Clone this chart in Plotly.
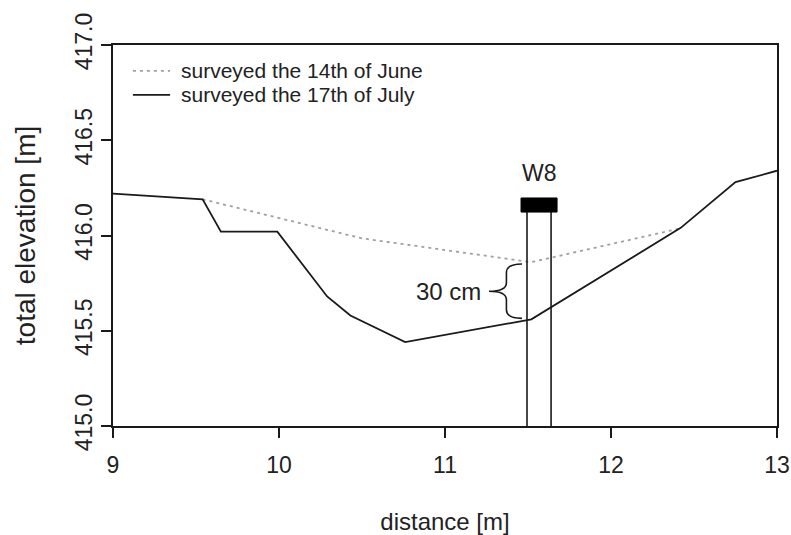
import plotly.graph_objects as go

# Data (distance [m], total elevation [m])
june_x = [9.54, 10.50, 11.52, 12.43]
june_y = [416.19, 415.985, 415.86, 416.04]

july_x = [9.00, 9.54, 9.65, 9.99, 10.29, 10.43, 10.76, 11.52, 12.42, 12.75, 13.00]
july_y = [416.22, 416.19, 416.02, 416.02, 415.68, 415.58, 415.44, 415.56, 416.04, 416.28, 416.34]

# Well W8 (pipe walls and cap)
well_left = 11.494
well_right = 11.639
well_cap_x = [11.458, 11.675]
well_cap_y = [416.123, 416.197]
well_label = "W8"
gap_label = "30 cm"

series_names = ["surveyed the 14th of June", "surveyed the 17th of July"]
series_colors = ["#a0a0a0", "#1a1a1a"]
series_dash = ["3px,4px", "solid"]

xticks = [9, 10, 11, 12, 13]
yticks = [415.0, 415.5, 416.0, 416.5, 417.0]

FONT = "Liberation Sans, Arial, Helvetica, sans-serif"
TXT = "#222222"

fig = go.Figure()

fig.add_trace(go.Scatter(
    x=june_x, y=june_y, mode="lines", name=series_names[0], showlegend=False,
    line=dict(color=series_colors[0], width=1.8, dash=series_dash[0]),
))
fig.add_trace(go.Scatter(
    x=july_x, y=july_y, mode="lines", name=series_names[1], showlegend=False,
    line=dict(color=series_colors[1], width=1.8, dash=series_dash[1]),
))

# pipe walls
for wx in (well_left, well_right):
    fig.add_trace(go.Scatter(
        x=[wx, wx], y=[yticks[0], well_cap_y[0]], mode="lines",
        line=dict(color="#1a1a1a", width=1.6), showlegend=False, hoverinfo="skip",
    ))

# cap rectangle
fig.add_shape(type="rect", xref="x", yref="y",
              x0=well_cap_x[0], x1=well_cap_x[1], y0=well_cap_y[0], y1=well_cap_y[1],
              fillcolor="black", line=dict(color="black", width=1))

fig.add_annotation(x=(well_cap_x[0] + well_cap_x[1]) / 2, y=416.33, text=well_label,
                   showarrow=False, font=dict(family=FONT, size=23, color=TXT))

# curly brace between the two surveys at the well
top = june_y[2] - 0.01
bot = july_y[7] + 0.005
mid = (top + bot) / 2
xr, xm, xt = 11.464, 11.370, 11.265
dy = 0.045
path = (f"M{xr},{top} Q{xm},{top} {xm},{top-dy} L{xm},{mid+dy} "
        f"Q{xm},{mid} {xt},{mid} Q{xm},{mid} {xm},{mid-dy} "
        f"L{xm},{bot+dy} Q{xm},{bot} {xr},{bot}")
fig.add_shape(type="path", xref="x", yref="y", path=path,
              line=dict(color="#1a1a1a", width=1.6))
fig.add_annotation(x=xt - 0.035, y=mid, text=gap_label, showarrow=False,
                   xanchor="right", font=dict(family=FONT, size=24, color=TXT))

# legend (drawn in paper coordinates, as in the original R-style legend)
leg_y = [0.932, 0.869]
for name, col, dash, ly in zip(series_names, series_colors, series_dash, leg_y):
    fig.add_shape(type="line", xref="paper", yref="paper",
                  x0=0.030, x1=0.086, y0=ly, y1=ly,
                  line=dict(color=col, width=1.8, dash=dash))
    fig.add_annotation(xref="paper", yref="paper", x=0.100, y=ly, text=name,
                       showarrow=False, xanchor="left", yanchor="middle",
                       font=dict(family=FONT, size=21, color=TXT))

axis_common = dict(
    showline=True, linecolor="#1a1a1a", linewidth=1.5, mirror=True,
    ticks="outside", ticklen=10, tickcolor="#1a1a1a", tickwidth=1.5,
    showgrid=False, zeroline=False, automargin=False,
    tickfont=dict(family=FONT, size=23, color=TXT),
)

fig.update_layout(
    width=791, height=535,
    margin=dict(l=113, r=14, t=45, b=109),
    plot_bgcolor="white", paper_bgcolor="white",
    font=dict(family=FONT, color=TXT),
    xaxis=dict(range=[9, 13], tickvals=xticks, ticktext=[str(v) for v in xticks],
               ticklabelstandoff=8,
               title=dict(text="distance [m]", font=dict(family=FONT, size=24, color=TXT), standoff=40),
               **axis_common),
    yaxis=dict(range=[415, 417], tickvals=yticks, ticktext=[f"{v:.1f}" for v in yticks],
               tickangle=-90,
               title=dict(text="total elevation [m]", font=dict(family=FONT, size=28, color=TXT), standoff=27),
               **axis_common),
    showlegend=False,
)

fig.write_html("out.html")
